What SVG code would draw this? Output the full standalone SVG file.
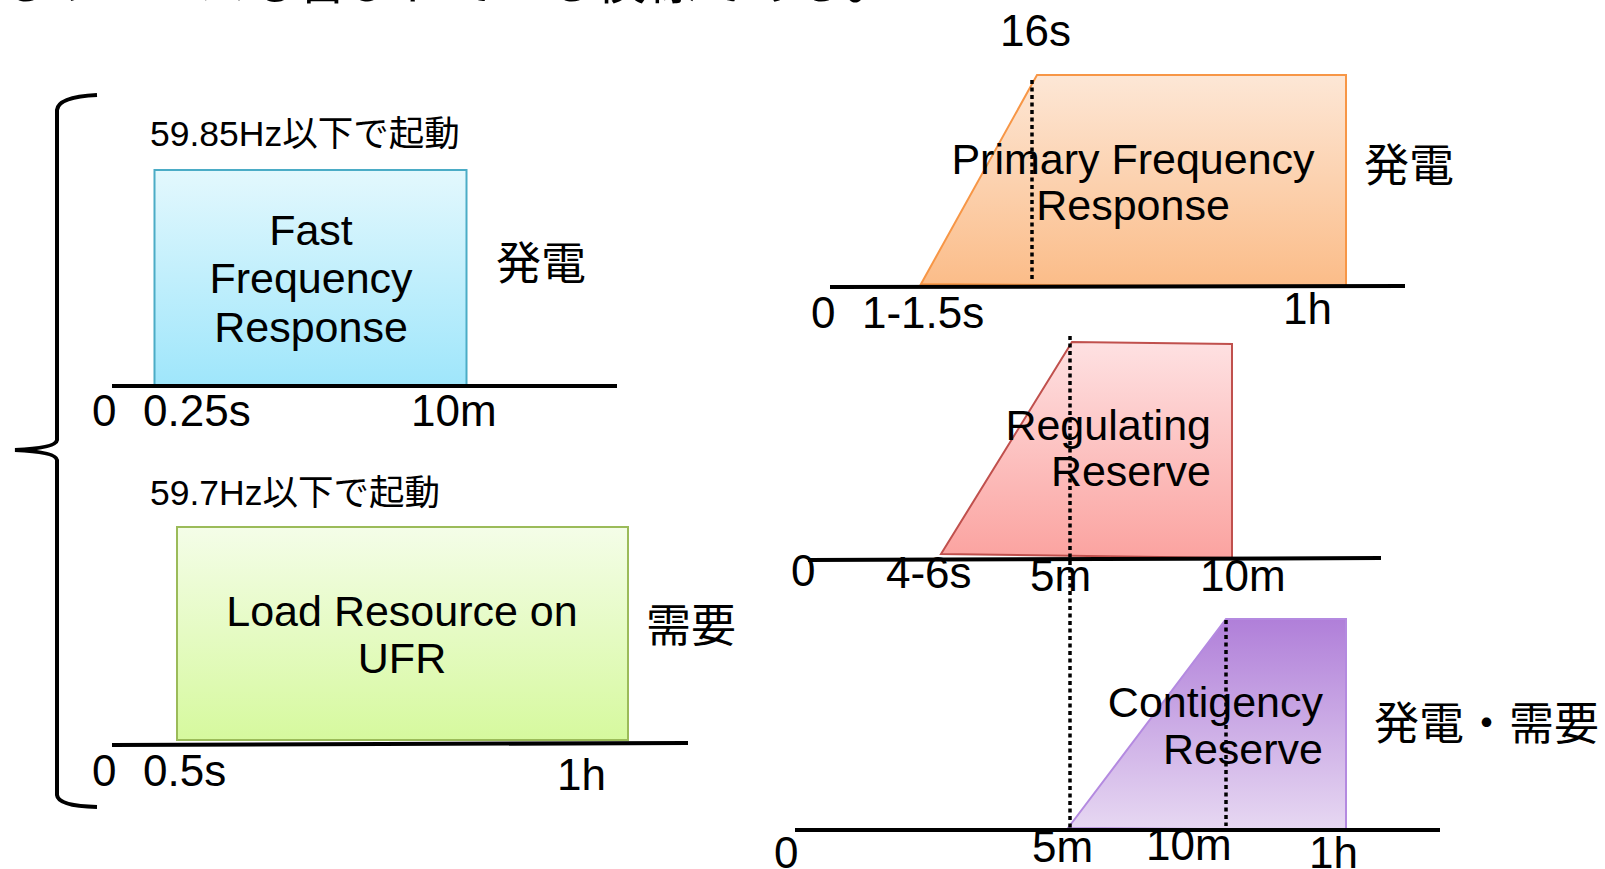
<svg xmlns="http://www.w3.org/2000/svg" width="1605" height="869" viewBox="0 0 1605 869">
<defs>
<linearGradient id="gBlue" x1="0" y1="0" x2="0" y2="1"><stop offset="0" stop-color="#e3f8fd"/><stop offset="1" stop-color="#9fe6fb"/></linearGradient>
<linearGradient id="gGreen" x1="0" y1="0" x2="0" y2="1"><stop offset="0" stop-color="#f4fde8"/><stop offset="1" stop-color="#d6f99e"/></linearGradient>
<linearGradient id="gOrange" x1="0" y1="0" x2="0" y2="1"><stop offset="0" stop-color="#fde7d6"/><stop offset="1" stop-color="#fbbc88"/></linearGradient>
<linearGradient id="gRed" x1="0" y1="0" x2="0" y2="1"><stop offset="0" stop-color="#fee1e2"/><stop offset="1" stop-color="#fba3a0"/></linearGradient>
<linearGradient id="gPurple" x1="0" y1="0" x2="0" y2="1"><stop offset="0" stop-color="#b07fd9"/><stop offset="1" stop-color="#e7d8f2"/></linearGradient>
</defs>
<style>
text{font-family:"Liberation Sans","Noto Sans CJK JP",sans-serif;fill:#000}
.lbl{font-size:44px}
.big{font-size:43px}
.jp{font-size:45px}
.trig{font-size:35.5px}
.axis{stroke:#000;stroke-width:4;fill:none}
.dot{stroke:#000;stroke-width:3.5;stroke-dasharray:4 3.5;fill:none}
.mid{text-anchor:middle}
.end{text-anchor:end}
</style>

<text x="0" y="-1" style="font-size:50px">るリソースも含まれている模様である。</text>

<path d="M97,95 Q58,97 57,110 L57,440 Q56,448 15,450 Q56,452 57,460 L57,795 Q58,806 97,807" fill="none" stroke="#000" stroke-width="4"/>

<g id="ffr">
<text class="trig" x="150" y="146">59.85Hz以下で起動</text>
<rect x="154.5" y="170" width="312" height="215" fill="url(#gBlue)" stroke="#4bacc6" stroke-width="2"/>
<text class="big mid" x="311" y="245">Fast</text>
<text class="big mid" x="311" y="293">Frequency</text>
<text class="big mid" x="311" y="342">Response</text>
<text class="jp" x="496" y="280">発電</text>
<line class="axis" x1="112" y1="386" x2="617" y2="386"/>
<text class="lbl" x="92" y="426">0</text>
<text class="lbl" x="143" y="426">0.25s</text>
<text class="lbl" x="411" y="426">10m</text>
</g>

<g id="lru">
<text class="trig" x="150" y="505">59.7Hz以下で起動</text>
<rect x="177" y="527" width="451" height="213" fill="url(#gGreen)" stroke="#9bbb59" stroke-width="2"/>
<text class="big mid" x="402" y="626">Load Resource on</text>
<text class="big mid" x="402" y="673">UFR</text>
<text class="jp" x="646" y="642">需要</text>
<line class="axis" x1="112" y1="745" x2="688" y2="743"/>
<text class="lbl" x="92" y="786">0</text>
<text class="lbl" x="143" y="786">0.5s</text>
<text class="lbl" x="557" y="790">1h</text>
</g>

<g id="pfr">
<text class="lbl" x="1000" y="46">16s</text>
<polygon points="921,284 1037,75 1346,75 1346,287" fill="url(#gOrange)" stroke="#f79646" stroke-width="2"/>
<text class="big mid" x="1133" y="174">Primary Frequency</text>
<text class="big mid" x="1133" y="220">Response</text>
<text class="jp" x="1364" y="182">発電</text>
<line class="axis" x1="830" y1="287" x2="1405" y2="286"/>
<text class="lbl" x="811" y="328">0</text>
<text class="lbl" x="862" y="328">1-1.5s</text>
<text class="lbl" x="1283" y="324">1h</text>
</g>

<g id="reg">
<polygon points="941,554 1072,342 1232,344 1232,558" fill="url(#gRed)" stroke="#c0504d" stroke-width="2"/>
<text class="big end" x="1211" y="440">Regulating</text>
<text class="big end" x="1211" y="486">Reserve</text>
<line class="axis" x1="808" y1="560" x2="1381" y2="558"/>
<text class="lbl" x="791" y="586">0</text>
<text class="lbl" x="886" y="588">4-6s</text>
<text class="lbl" x="1030" y="591">5m</text>
<text class="lbl" x="1200" y="591">10m</text>
</g>

<g id="con">
<polygon points="1068,828 1226,619 1346,619 1346,830" fill="url(#gPurple)" stroke="#b48ae0" stroke-width="2"/>
<text class="big end" x="1323" y="717">Contigency</text>
<text class="big end" x="1323" y="764">Reserve</text>
<text class="jp" x="1374" y="740">発電・需要</text>
<line class="axis" x1="795" y1="830" x2="1440" y2="830"/>
<text class="lbl" x="774" y="868">0</text>
<text class="lbl" x="1032" y="862">5m</text>
<text class="lbl" x="1146" y="860">10m</text>
<text class="lbl" x="1309" y="868">1h</text>
</g>

<g id="connectors">
<line class="dot" x1="1032" y1="80" x2="1032" y2="282"/>
<line class="dot" x1="1070" y1="336" x2="1070" y2="828"/>
<line class="dot" x1="1226" y1="620" x2="1226" y2="826"/>
</g>
</svg>
